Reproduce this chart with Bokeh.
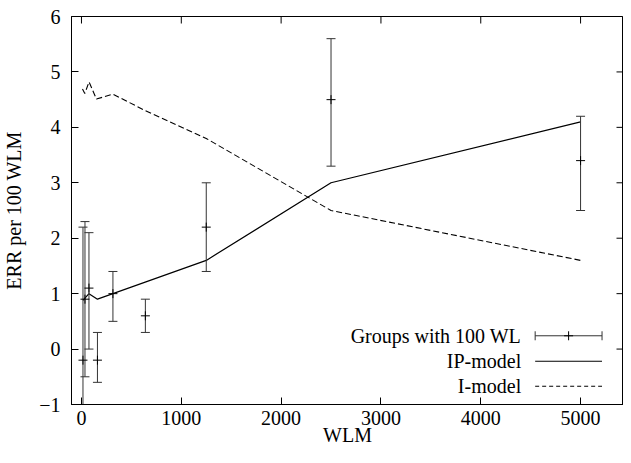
import math
from bokeh.plotting import figure
from bokeh.models import LinearAxis, FixedTicker, Range1d, Label
from bokeh.embed import file_html
from bokeh.resources import INLINE

# ---- data ----
group_wlm = [15, 35, 75, 160, 315, 640, 1250, 2500, 5000]
group_err = [-0.2, 0.9, 1.1, -0.2, 1.0, 0.6, 2.2, 4.5, 3.4]
group_low = [-2.7, -0.5, 0.0, -0.6, 0.5, 0.3, 1.4, 3.3, 2.5]
group_high = [2.2, 2.3, 2.1, 0.3, 1.4, 0.9, 3.0, 5.6, 4.2]

ip_wlm = [15, 75, 160, 315, 1250, 2500, 5000]
ip_err = [0.88, 1.0, 0.9, 1.0, 1.6, 3.0, 4.1]

i_wlm = [10, 33, 76, 150, 315, 640, 1250, 2500, 5000]
i_err = [4.69, 4.61, 4.82, 4.51, 4.6, 4.3, 3.8, 2.5, 1.6]

x_ticks = [0, 1000, 2000, 3000, 4000, 5000]
y_ticks = [-1, 0, 1, 2, 3, 4, 5, 6]

legend_labels = ["Groups with 100 WL", "IP-model", "I-model"]

FONT = "Liberation Serif"
FS = "20px"
X0, X1 = -100, 5430
Y0, Y1 = -1, 6

p = figure(width=623, height=454, output_backend="svg", toolbar_location=None,
           x_range=Range1d(X0, X1), y_range=Range1d(Y0, Y1),
           x_axis_location=None, y_axis_location=None,
           min_border_left=69, min_border_right=0, min_border_top=16,
           min_border_bottom=50)
p.background_fill_color = "white"
p.border_fill_color = "white"
p.grid.visible = False
p.outline_line_color = "black"
p.outline_line_width = 1


def style_axis(ax):
    ax.major_tick_in = 7
    ax.major_tick_out = 0
    ax.minor_tick_line_color = None
    ax.major_tick_line_color = "black"
    ax.axis_line_color = "black"
    ax.major_label_text_font = FONT
    ax.major_label_text_font_size = FS
    ax.major_label_text_color = "black"
    ax.axis_label_text_font = FONT
    ax.axis_label_text_font_size = FS
    ax.axis_label_text_font_style = "normal"
    ax.axis_label_text_color = "black"


xb = LinearAxis(ticker=FixedTicker(ticks=x_ticks), axis_label="WLM")
style_axis(xb)
xb.major_label_standoff = 6
xb.axis_label_standoff = -4
p.add_layout(xb, "below")

yl = LinearAxis(ticker=FixedTicker(ticks=y_ticks), axis_label="ERR per 100 WLM")
style_axis(yl)
yl.major_label_standoff = 11
yl.axis_label_standoff = 11
p.add_layout(yl, "left")

# mirror ticks on top and right edges (half of each dash is clipped by the frame)
p.scatter(x_ticks, [Y1] * len(x_ticks), marker="dash", angle=math.pi / 2, size=14,
          line_color="black", line_width=1)
p.scatter([X1] * len(y_ticks), y_ticks, marker="dash", size=14,
          line_color="black", line_width=1)

# ---- model lines ----
p.line(ip_wlm, ip_err, line_color="black", line_width=1.2)
p.line(i_wlm, i_err, line_color="black", line_width=1.1, line_dash="6 3")

# ---- error bars ----
p.segment(x0=group_wlm, y0=group_low, x1=group_wlm, y1=group_high,
          line_color="#333333", line_width=1)
p.scatter(group_wlm, group_low, marker="dash", size=9, line_color="#333333", line_width=1)
p.scatter(group_wlm, group_high, marker="dash", size=9, line_color="#333333", line_width=1)
p.scatter(group_wlm, group_err, marker="cross", size=9, line_color="black", line_width=1)

# ---- legend (gnuplot style: text left, sample right) ----
lx_text = 4405
lx0, lx1 = 4545, 5215
lxc = (lx0 + lx1) / 2
rows = [0.24, -0.22, -0.67]
for lab, ry in zip(legend_labels, rows):
    p.add_layout(Label(x=lx_text, y=ry, text=lab, text_align="right",
                       text_baseline="middle", text_font=FONT,
                       text_font_size=FS, text_color="black"))
p.segment(x0=[lx0], y0=[rows[0]], x1=[lx1], y1=[rows[0]], line_color="#333333", line_width=1)
p.scatter([lx0, lx1], [rows[0], rows[0]], marker="dash", angle=math.pi / 2, size=9,
          line_color="#333333", line_width=1)
p.scatter([lxc], [rows[0]], marker="cross", size=9, line_color="black", line_width=1)
p.line([lx0, lx1], [rows[1], rows[1]], line_color="black", line_width=1.2)
p.line([lx0, lx1], [rows[2], rows[2]], line_color="black", line_width=1.1, line_dash="4 3")

open("out.html", "w").write(file_html(p, INLINE))
